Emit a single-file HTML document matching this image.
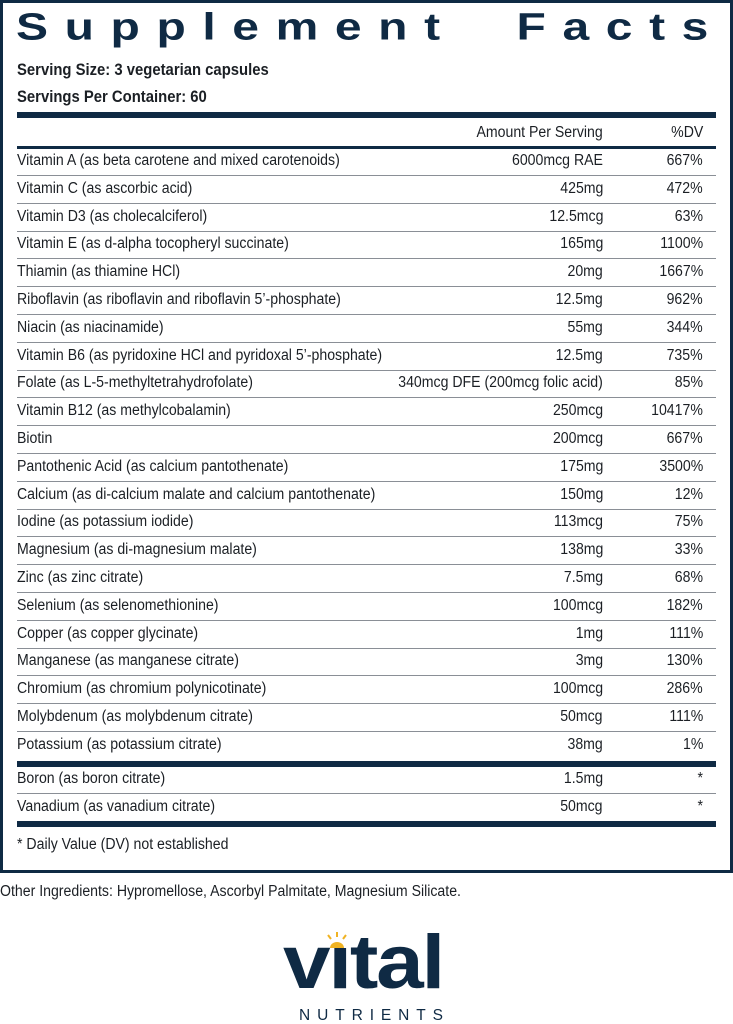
<!DOCTYPE html>
<html><head><meta charset="utf-8"><style>
*{margin:0;padding:0;box-sizing:border-box}
body{width:733px;height:1024px;background:#fff;position:relative;overflow:hidden;font-family:"Liberation Sans",sans-serif;color:#1b1f24}
.box{position:absolute;left:0;top:0;width:733px;height:873px;border:3px solid #0f2a44}
.t{position:absolute;white-space:nowrap;font-size:15.5px;line-height:18px;transform:scaleX(0.91);transform-origin:left center}
.r{text-align:right;transform-origin:right center}
.bar{position:absolute;left:17px;width:699px;background:#0f2a44}
.ln{position:absolute;left:17px;width:699px;height:1px;background:#8a8f96}
h1{position:absolute;left:16px;top:0px;font-family:"Liberation Sans",sans-serif;font-weight:bold;font-size:48px;letter-spacing:16.6px;color:#0f2a44;white-space:nowrap;line-height:48px;transform:scaleY(0.8);transform-origin:0 40.6px}
.b{font-weight:bold;font-size:16.5px;transform:scaleX(0.9)}
</style></head><body>
<div class="box"></div>
<h1>Supplement&nbsp;&nbsp;Facts</h1>
<div class="t b" style="left:17px;top:61px">Serving Size: 3 vegetarian capsules</div>
<div class="t b" style="left:17px;top:88px">Servings Per Container: 60</div>
<div class="bar" style="top:112px;height:6px"></div>
<div class="t r" style="right:130px;top:124px">Amount Per Serving</div>
<div class="t r" style="right:30px;top:124px">%DV</div>
<div class="bar" style="top:146px;height:3px"></div>
<div id="rows"></div>
<script>
var d=[["Vitamin A (as beta carotene and mixed carotenoids)","6000mcg RAE","667%"],
["Vitamin C (as ascorbic acid)","425mg","472%"],
["Vitamin D3 (as cholecalciferol)","12.5mcg","63%"],
["Vitamin E (as d-alpha tocopheryl succinate)","165mg","1100%"],
["Thiamin (as thiamine HCl)","20mg","1667%"],
["Riboflavin (as riboflavin and riboflavin 5\u2019-phosphate)","12.5mg","962%"],
["Niacin (as niacinamide)","55mg","344%"],
["Vitamin B6 (as pyridoxine HCl and pyridoxal 5\u2019-phosphate)","12.5mg","735%"],
["Folate (as L-5-methyltetrahydrofolate)","340mcg DFE (200mcg folic acid)","85%"],
["Vitamin B12 (as methylcobalamin)","250mcg","10417%"],
["Biotin","200mcg","667%"],
["Pantothenic Acid (as calcium pantothenate)","175mg","3500%"],
["Calcium (as di-calcium malate and calcium pantothenate)","150mg","12%"],
["Iodine (as potassium iodide)","113mcg","75%"],
["Magnesium (as di-magnesium malate)","138mg","33%"],
["Zinc (as zinc citrate)","7.5mg","68%"],
["Selenium (as selenomethionine)","100mcg","182%"],
["Copper (as copper glycinate)","1mg","111%"],
["Manganese (as manganese citrate)","3mg","130%"],
["Chromium (as chromium polynicotinate)","100mcg","286%"],
["Molybdenum (as molybdenum citrate)","50mcg","111%"],
["Potassium (as potassium citrate)","38mg","1%"]];
var h="";
function row(c,y,sep){h+='<div class="t" style="left:17px;top:'+(y-9)+'px">'+c[0]+'</div><div class="t r" style="right:130px;top:'+(y-9)+'px">'+c[1]+'</div><div class="t r" style="right:30px;top:'+(y-9)+'px">'+c[2]+'</div>';if(sep)h+='<div class="ln" style="top:'+(y+14)+'px"></div>';}
for(var i=0;i<d.length;i++){row(d[i],161+i*27.8,i<d.length-1);}
row(["Boron (as boron citrate)","1.5mg","*"],779,true);
row(["Vanadium (as vanadium citrate)","50mcg","*"],807,false);
document.getElementById("rows").innerHTML=h;
</script>
<div class="bar" style="top:761px;height:6px"></div>
<div class="bar" style="top:821px;height:6px"></div>
<div class="t" style="left:17px;top:836px">* Daily Value (DV) not established</div>
<div class="t" style="left:0px;top:883px">Other Ingredients: Hypromellose, Ascorbyl Palmitate, Magnesium Silicate.</div>
<svg style="position:absolute;left:270px;top:923px" width="200" height="101">
<text x="13" y="65" font-family="Liberation Sans,sans-serif" font-weight="bold" font-size="76" fill="#0f2a44" letter-spacing="-2" textLength="160" lengthAdjust="spacingAndGlyphs">vital</text>
<rect x="55" y="3" width="23" height="19" fill="#fff"/>
<g stroke="#f0b323" stroke-width="2"><line x1="67" y1="9" x2="67" y2="14"/><line x1="58" y1="12" x2="61" y2="16"/><line x1="76" y1="12" x2="73" y2="16"/></g>
<path d="M60 25 A7 6 0 0 1 74 25 Z" fill="#f0b323"/>
<text x="29" y="97" font-family="Liberation Sans,sans-serif" font-size="15.5" fill="#0f2a44" textLength="144" lengthAdjust="spacing">NUTRIENTS</text>
</svg>
</body></html>
